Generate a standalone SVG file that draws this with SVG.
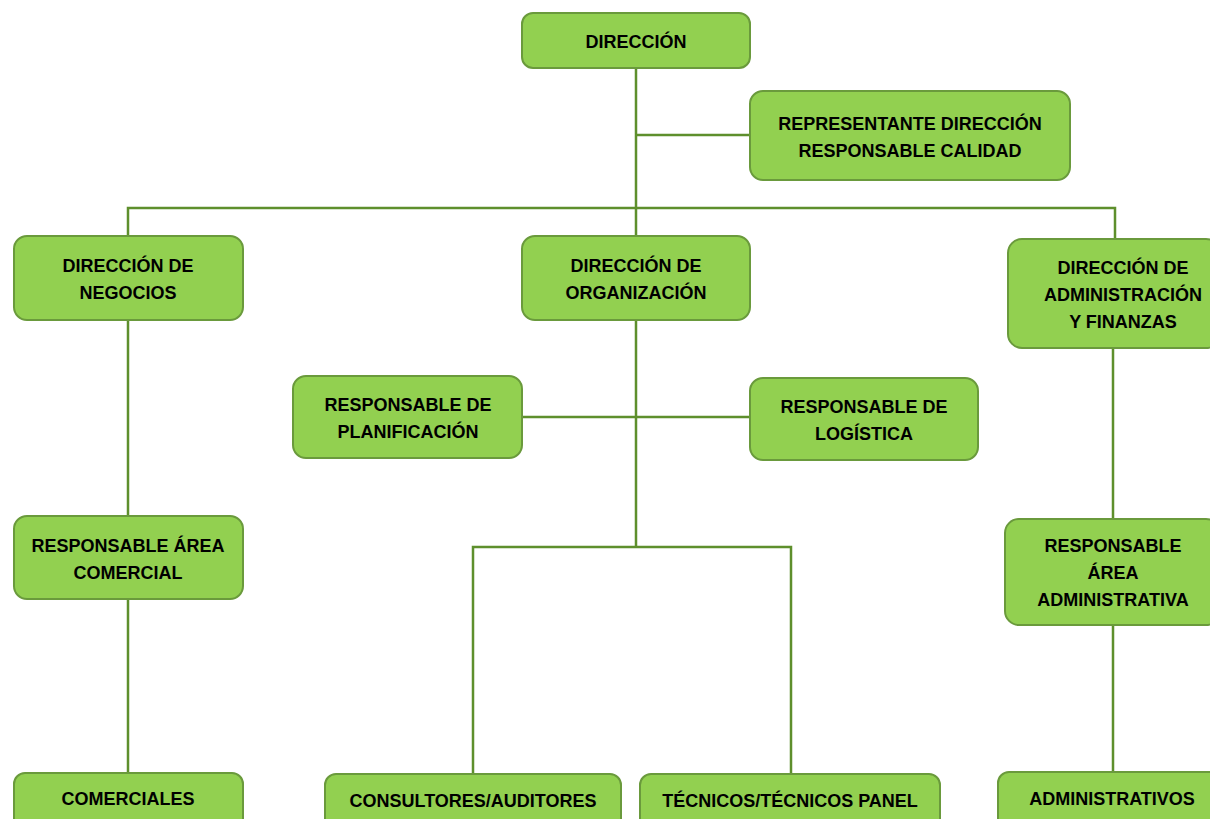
<svg xmlns="http://www.w3.org/2000/svg" width="1210" height="819" viewBox="0 0 1210 819">
<style>
.box{fill:#92D050;stroke:#6A9A3C;stroke-width:2}
.t{font-family:"Liberation Sans",Arial,sans-serif;font-weight:bold;font-size:18px;fill:#000;text-anchor:middle}
.c{fill:none;stroke:#5E8F2C;stroke-width:2.5}
</style>
<rect width="1210" height="819" fill="#fff"/>
<g id="connectors">
<path class="c" d="M636 68V236M636 135H750M128 236V208H1115V239M128 320V516M128 599V773M636 320V547M522 417H750M473 774V547H791V774M1113 348V519M1113 625V772"/>
</g>
<g id="direccion"><rect class="box" x="522" y="13" width="228" height="55" rx="11"/><text class="t" x="636" y="48">DIRECCIÓN</text></g>
<g id="representante"><rect class="box" x="750" y="91" width="320" height="89" rx="13"/><text class="t" x="910" y="130">REPRESENTANTE  DIRECCIÓN</text><text class="t" x="910" y="157">RESPONSABLE CALIDAD</text></g>
<g id="negocios"><rect class="box" x="14" y="236" width="229" height="84" rx="13"/><text class="t" x="128" y="272">DIRECCIÓN DE</text><text class="t" x="128" y="299">NEGOCIOS</text></g>
<g id="organizacion"><rect class="box" x="522" y="236" width="228" height="84" rx="13"/><text class="t" x="636" y="272">DIRECCIÓN DE</text><text class="t" x="636" y="299">ORGANIZACIÓN</text></g>
<g id="administracion"><rect class="box" x="1008" y="239" width="212" height="109" rx="14"/><text class="t" x="1123" y="274">DIRECCIÓN DE</text><text class="t" x="1123" y="301">ADMINISTRACIÓN</text><text class="t" x="1123" y="328">Y FINANZAS</text></g>
<g id="planificacion"><rect class="box" x="293" y="376" width="229" height="82" rx="13"/><text class="t" x="408" y="411">RESPONSABLE DE</text><text class="t" x="408" y="438">PLANIFICACIÓN</text></g>
<g id="logistica"><rect class="box" x="750" y="378" width="228" height="82" rx="13"/><text class="t" x="864" y="413">RESPONSABLE DE</text><text class="t" x="864" y="440">LOGÍSTICA</text></g>
<g id="area-comercial"><rect class="box" x="14" y="516" width="229" height="83" rx="13"/><text class="t" x="128" y="552">RESPONSABLE ÁREA</text><text class="t" x="128" y="579">COMERCIAL</text></g>
<g id="area-administrativa"><rect class="box" x="1005" y="519" width="215" height="106" rx="14"/><text class="t" x="1113" y="552">RESPONSABLE</text><text class="t" x="1113" y="579">ÁREA</text><text class="t" x="1113" y="606">ADMINISTRATIVA</text></g>
<g id="comerciales"><rect class="box" x="14" y="773" width="229" height="60" rx="11"/><text class="t" x="128" y="805">COMERCIALES</text></g>
<g id="consultores"><rect class="box" x="325" y="774" width="296" height="60" rx="11"/><text class="t" x="473" y="807">CONSULTORES/AUDITORES</text></g>
<g id="tecnicos"><rect class="box" x="640" y="774" width="300" height="60" rx="11"/><text class="t" x="790" y="807">TÉCNICOS/TÉCNICOS PANEL</text></g>
<g id="administrativos"><rect class="box" x="998" y="772" width="222" height="60" rx="11"/><text class="t" x="1112" y="805">ADMINISTRATIVOS</text></g>
</svg>
